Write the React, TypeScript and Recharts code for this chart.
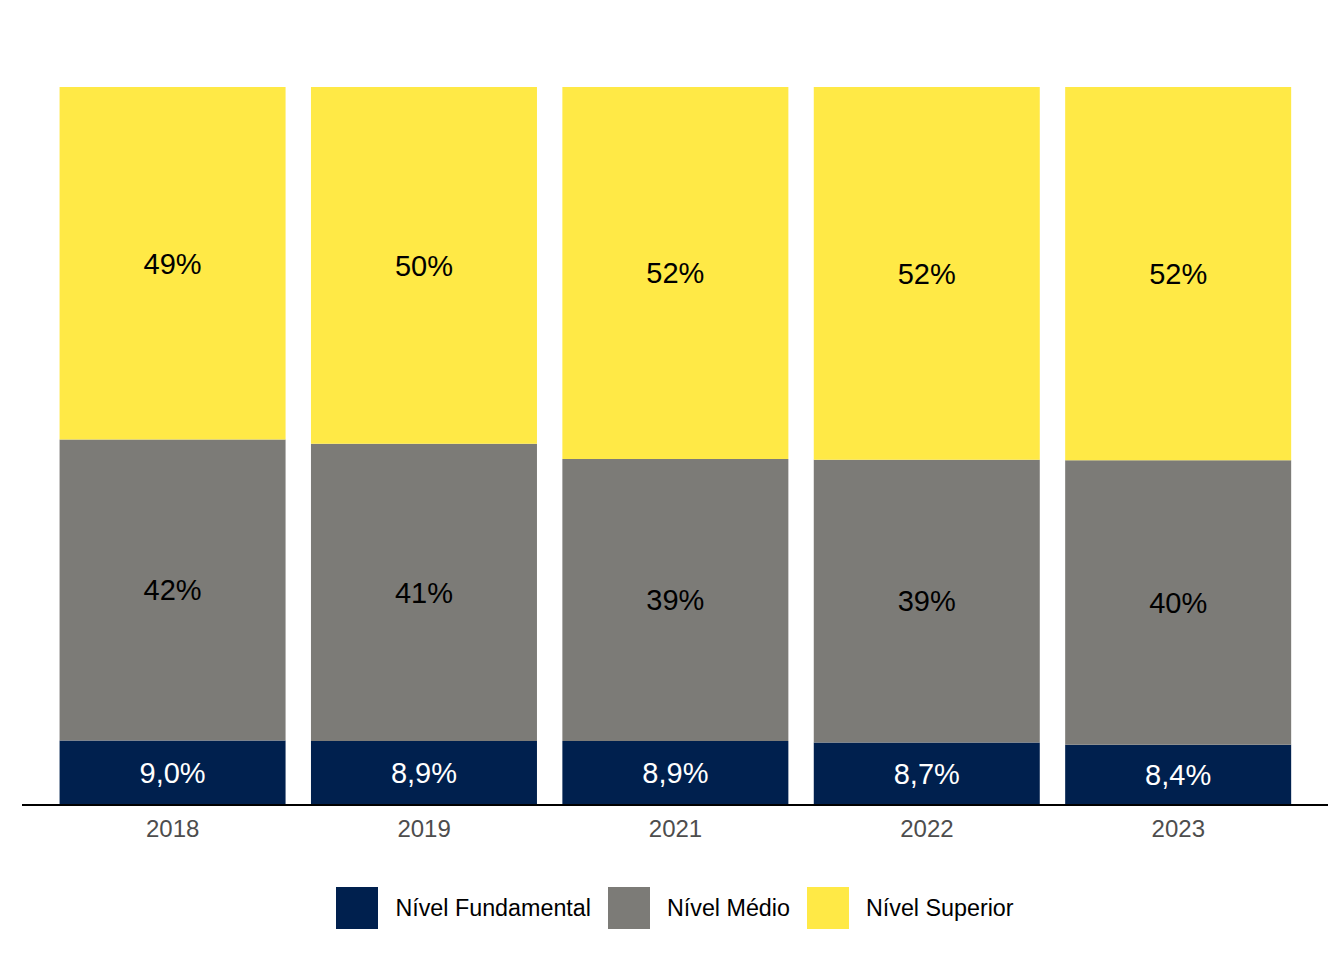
import { Bar, BarChart, LabelList, Legend, XAxis, YAxis } from 'recharts'

const years = ['2018', '2019', '2021', '2022', '2023']
const fundamental = [9.0, 8.9, 8.9, 8.7, 8.4]
const medio = [41.9, 41.4, 39.3, 39.4, 39.6]
const superior = [49.1, 49.7, 51.8, 51.9, 52.0]

const COLORS = {
  fundamental: '#00204e',
  medio: '#7c7b77',
  superior: '#ffe946',
}

const data = years.map((year, i) => ({
  year,
  fundamental: fundamental[i],
  medio: medio[i],
  superior: superior[i],
}))

const series = [
  { key: 'fundamental', name: 'Nível Fundamental', color: COLORS.fundamental },
  { key: 'medio', name: 'Nível Médio', color: COLORS.medio },
  { key: 'superior', name: 'Nível Superior', color: COLORS.superior },
]

const FONT = '"Liberation Sans", Arial, Helvetica, sans-serif'

const oneDecimal = (v: any) => `${Number(v).toFixed(1).replace('.', ',')}%`
const whole = (v: any) => `${Math.round(Number(v))}%`

function LegendContent() {
  return (
    <div style={{ display: 'flex', justifyContent: 'center', alignItems: 'center', height: 42, fontFamily: FONT }}>
      {series.map((s, i) => (
        <div key={s.key} style={{ display: 'flex', alignItems: 'center', marginLeft: i === 0 ? 0 : 17 }}>
          <span style={{ width: 42, height: 42, background: s.color, display: 'inline-block' }} />
          <span style={{ fontSize: 23.3, color: '#000', marginLeft: 17 }}>{s.name}</span>
        </div>
      ))}
    </div>
  )
}

export default function App() {
  return (
    <div style={{ position: 'absolute', left: 0, top: 0, width: 1344, height: 960, background: '#fff' }}>
      <BarChart
        width={1344}
        height={960}
        data={data}
        margin={{ top: 87, right: 16, left: 22, bottom: 31 }}
        barCategoryGap="5%"
      >
        <XAxis
          dataKey="year"
          height={82}
          padding={{ left: 25, right: 24 }}
          axisLine={{ stroke: '#000', strokeWidth: 2 }}
          tickLine={false}
          tick={{ fill: '#4d4d4d', fontSize: 24, fontFamily: FONT }}
          tickMargin={9}
        />
        <YAxis hide domain={[0, 100]} />
        <Legend verticalAlign="bottom" content={<LegendContent />} />
        <Bar dataKey="fundamental" stackId="a" fill={COLORS.fundamental} isAnimationActive={false}>
          <LabelList dataKey="fundamental" position="center" formatter={oneDecimal} fill="#fff" fontSize={29} fontFamily={FONT} />
        </Bar>
        <Bar dataKey="medio" stackId="a" fill={COLORS.medio} isAnimationActive={false}>
          <LabelList dataKey="medio" position="center" formatter={whole} fill="#000" fontSize={29} fontFamily={FONT} />
        </Bar>
        <Bar dataKey="superior" stackId="a" fill={COLORS.superior} isAnimationActive={false}>
          <LabelList dataKey="superior" position="center" formatter={whole} fill="#000" fontSize={29} fontFamily={FONT} />
        </Bar>
      </BarChart>
    </div>
  )
}
